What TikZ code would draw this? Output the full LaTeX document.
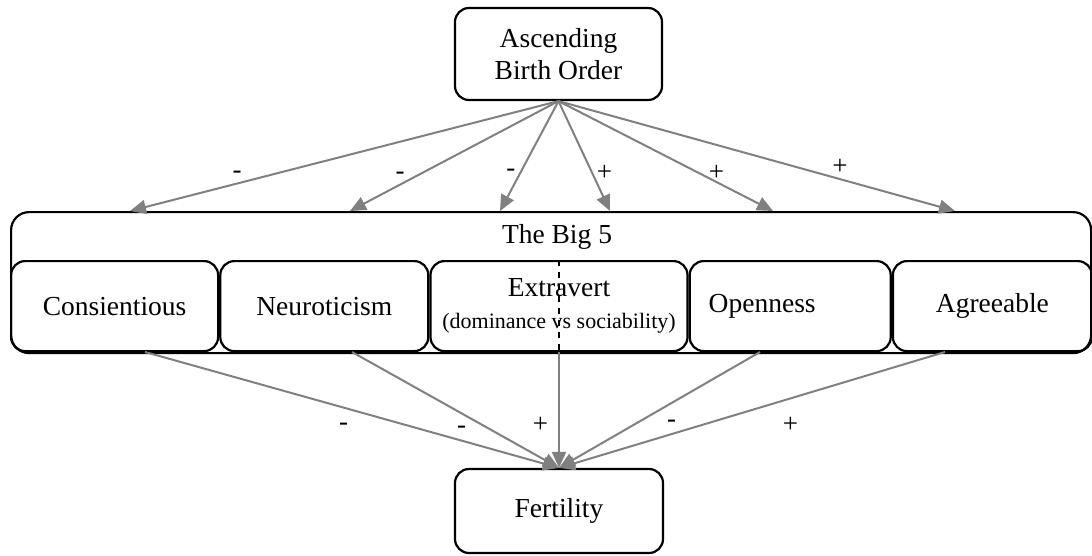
\documentclass[tikz,border=0pt]{standalone}
\usepackage{fontspec}
\setmainfont{Liberation Serif}
\usetikzlibrary{positioning,arrows.meta}

\begin{document}
\begin{tikzpicture}[
    x=0.5pt, y=-0.5pt,
    font=\fontsize{13.75}{16}\selectfont,
    box/.style={draw, rounded corners=7pt, line width=1.1pt, minimum height=45pt, inner sep=0pt, align=center},
    arrow/.style={-{Triangle[length=8pt,width=7pt]}, draw=gray, fill=gray, line width=1pt},
    sign/.style={font=\fontsize{13.5}{15}\selectfont, inner sep=2pt}
]
\useasboundingbox (0,0) rectangle (1092,556);

% Ursache und Zielgroesse
\node[box, minimum width=103.5pt, minimum height=46pt] (birth) at (558.5,54) {Ascending\\Birth Order};
\node[box, minimum width=104pt, minimum height=42pt] (fert) at (559,511) {Fertility};

% Rahmen fuer die Big 5
\node[box, rounded corners=9pt, minimum width=540pt, minimum height=70.5pt, anchor=north west] (bigfive) at (10,211) {};
\node (bigtitle) at (557,237) {The Big 5};

% die fuenf Faktoren
\node[box, minimum width=103.5pt, anchor=north west] (consc) at (10,260) {Consientious};
\node[box, minimum width=104pt, right=0pt of consc] (neuro) {Neuroticism};
\node[box, minimum width=128.5pt, right=0pt of neuro] (extra) {Extravert\\{\fontsize{11}{13}\selectfont(dominance vs sociability)}};
\node[box, minimum width=100.5pt, right=0pt of extra] (open) {Openness\hspace*{28pt}};
\node[box, minimum width=99.5pt, right=0pt of open] (agree) {Agreeable};

% Pfeile von der Geburtsreihenfolge
\coordinate (t1) at (130,211);
\coordinate (t2) at (350,211);
\coordinate (t3) at (500,211);
\coordinate (t4) at (610,211);
\coordinate (t5) at (773,211);
\coordinate (t6) at (955,211);
\draw[arrow] (birth.south) -- node[sign, pos=0.75, above] {-} (t1);
\draw[arrow] (birth.south) -- node[sign, pos=0.76, above] {-} (t2);
\draw[arrow] (birth.south) -- node[sign, pos=0.65, left] {-} (t3);
\draw[arrow] (birth.south) -- node[sign, pos=0.65, right] {+} (t4);
\draw[arrow] (birth.south) -- node[sign, pos=0.65, right=3pt] {+} (t5);
\draw[arrow] (birth.south) -- node[sign, pos=0.71, above] {+} (t6);

% Pfeile zur Fertilitaet
\coordinate (b1) at (145,352);
\coordinate (b2) at (352,352);
\coordinate (b4) at (760,352);
\coordinate (b5) at (945,352);
\draw[arrow] (b1) -- node[sign, pos=0.48, below=5pt] {-} (fert.north);
\draw[arrow] (b2) -- node[sign, pos=0.53, below=4pt] {-} (fert.north);
\draw[dashed, line width=0.8pt] (extra.north) -- (extra.south);
\draw[arrow] (extra.south) -- node[sign, pos=0.63, left=3pt] {+} (fert.north);
\draw[arrow] (b4) -- node[sign, pos=0.44, below=6pt] {-} (fert.north);
\draw[arrow] (b5) -- node[sign, pos=0.4, below=7pt] {+} (fert.north);

\end{tikzpicture}
\end{document}
